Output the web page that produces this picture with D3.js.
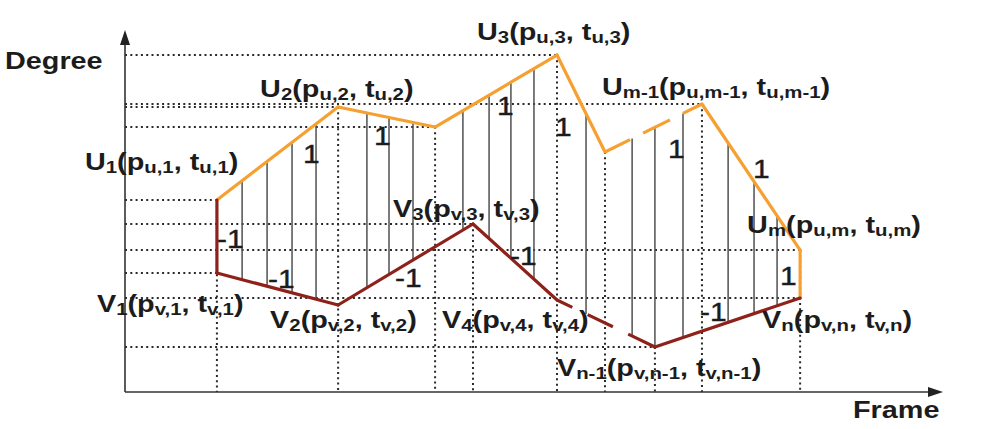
<!DOCTYPE html>
<html>
<head>
<meta charset="utf-8">
<script src="https://cdn.jsdelivr.net/npm/d3@7.9.0/dist/d3.min.js"></script>
<style>
  html, body { margin: 0; padding: 0; background: #fff; }
  svg { display: block; font-family: "Liberation Sans", Arial, sans-serif; }
</style>
</head>
<body>
<div id="chart"></div>
<script>
// upper polyline U (orange) and lower polyline V (brown), in frame / degree units
const uFrames  = [3.83, 8.88, 12.92, 18.0, 20.0, 24.04, 28.13];
const uDegrees = [16.0, 23.75, 22.08, 28.08, 20.0, 24.0, 11.83];
const uLabels  = ['U_{1}(p_{u,1}, t_{u,1})', 'U_{2}(p_{u,2}, t_{u,2})', null,
                  'U_{3}(p_{u,3}, t_{u,3})', null,
                  'U_{m-1}(p_{u,m-1}, t_{u,m-1})', 'U_{m}(p_{u,m}, t_{u,m})'];

const vFrames  = [3.83, 8.88, 14.5, 18.0, 22.08, 28.13];
const vDegrees = [9.92, 7.25, 14.0, 7.67, 3.75, 7.83];
const vLabels  = ['V_{1}(p_{v,1}, t_{v,1})', 'V_{2}(p_{v,2}, t_{v,2})', 'V_{3}(p_{v,3}, t_{v,3})',
                  'V_{4}(p_{v,4}, t_{v,4})', 'V_{n-1}(p_{v,n-1}, t_{v,n-1})', 'V_{n}(p_{v,n}, t_{v,n})'];

// intermediate frames where a difference line is drawn
const stepFrames = [4.88, 5.92, 6.96, 7.96, 10.08, 11.0, 12.0, 14.08, 15.17, 16.08, 17.04,
                    19.21, 21.13, 22.08, 23.25, 25.13, 26.21, 27.17];

// +1 / -1 annotations
const stepTexts   = ['1', '1', '1', '1', '1', '1', '1', '-1', '-1', '-1', '-1', '-1'];
const stepTextF   = [7.42, 10.38, 15.5, 17.92, 22.63, 26.17, 27.29, 3.83, 5.96, 11.25, 16.04, 23.96];
const stepTextD   = [19.08, 20.58, 23.08, 21.33, 19.5, 17.83, 8.92, 12.0, 8.67, 8.75, 10.58, 5.92];

const xTitle = 'Frame';
const yTitle = 'Degree';

// which points get guide lines
const uHGuides = [0, 1, 2, 3, 5, 6];
const vHGuides = [0, 2, 4, 5];
const uVGuides = [0, 1, 2, 3, 4, 5, 6];
const vVGuides = [2, 4];

const width = 996, height = 429;
const orange = '#f6a031', brown = '#8e2119', ink = '#1c1c1c';
const stretch = 1.2;

const svg = d3.select('#chart').append('svg')
  .attr('width', width).attr('height', height);

const x = d3.scaleLinear().domain([0, 34]).range([125, 941]);
const y = d3.scaleLinear().domain([0, 30]).range([392, 32]);

const U = uFrames.map((f, i) => ({ f, d: uDegrees[i], label: uLabels[i] }));
const V = vFrames.map((f, i) => ({ f, d: vDegrees[i], label: vLabels[i] }));

const uAt = d3.scaleLinear().domain(uFrames).range(uDegrees);
const vAt = d3.scaleLinear().domain(vFrames).range(vDegrees);

const dotted = sel => sel.attr('stroke', '#2a2a2a').attr('stroke-width', 2)
  .attr('stroke-dasharray', '2,3.3').attr('fill', 'none');

// horizontal guides
const hg = svg.append('g');
hg.selectAll('line.u').data(uHGuides.map(i => U[i])).join('line').attr('class', 'u')
  .attr('x1', x(0)).attr('x2', d => x(d.f))
  .attr('y1', d => y(d.d)).attr('y2', d => y(d.d)).call(dotted);
hg.selectAll('line.v').data(vHGuides.map(i => V[i])).join('line').attr('class', 'v')
  .attr('x1', x(0)).attr('x2', d => x(d.f))
  .attr('y1', d => y(d.d)).attr('y2', d => y(d.d)).call(dotted);

// vertical guides
const vg = svg.append('g');
vg.selectAll('line.u').data(uVGuides.map(i => U[i])).join('line').attr('class', 'u')
  .attr('x1', d => x(d.f)).attr('x2', d => x(d.f))
  .attr('y1', d => y(d.d)).attr('y2', y(0)).call(dotted);
vg.selectAll('line.v').data(vVGuides.map(i => V[i])).join('line').attr('class', 'v')
  .attr('x1', d => x(d.f)).attr('x2', d => x(d.f))
  .attr('y1', d => y(d.d)).attr('y2', y(0)).call(dotted);

// difference lines between U and V
svg.append('g').selectAll('line').data(stepFrames).join('line')
  .attr('x1', d => x(d)).attr('x2', d => x(d))
  .attr('y1', d => y(uAt(d))).attr('y2', d => y(vAt(d)))
  .attr('stroke', '#505050').attr('stroke-width', 1.5);

// polylines drawn segment by segment; the gap segments are dashed
function drawPath(points, color, dashedIndex, dash) {
  const segs = d3.pairs(points).map(([a, b], i) => ({ a, b, i }));
  svg.append('g').selectAll('line').data(segs).join('line')
    .attr('x1', s => x(s.a.f)).attr('y1', s => y(s.a.d))
    .attr('x2', s => x(s.b.f)).attr('y2', s => y(s.b.d))
    .attr('stroke', color).attr('stroke-width', 3.2)
    .attr('stroke-linecap', s => s.i === dashedIndex ? 'butt' : 'round')
    .attr('stroke-dasharray', s => s.i === dashedIndex ? dash : null);
}
drawPath([...U, V[V.length - 1]], orange, 4, '28,14.5,30,14.5,22');
drawPath([U[0], ...V], brown, 4, '17,17,28,17,32');

// axes
const axis = svg.append('g').attr('stroke', '#333').attr('fill', '#222');
axis.append('line').attr('x1', x(0)).attr('y1', y(0)).attr('x2', x(0)).attr('y2', y(30) + 10)
  .attr('stroke-width', 1.6);
axis.append('line').attr('x1', x(0)).attr('y1', y(0)).attr('x2', x(34) - 10).attr('y2', y(0))
  .attr('stroke-width', 1.6);
axis.append('path').attr('stroke', 'none')
  .attr('d', `M${x(0)},${y(30) - 2} l-5,15 l10,0 z`);
axis.append('path').attr('stroke', 'none')
  .attr('d', `M${x(34) + 2},${y(0)} l-15,-5 l0,10 z`);

// label with subscripts written as _{...}
function richText(g, str, big, small) {
  const t = g.append('text').attr('fill', ink).attr('font-weight', 'bold');
  const parts = str.split(/(_\{[^}]*\})/).filter(s => s.length);
  let sub = false;
  parts.forEach(p => {
    const isSub = p.startsWith('_{');
    const txt = isSub ? p.slice(2, -1) : p;
    const ts = t.append('tspan').attr('font-size', isSub ? small : big).text(txt);
    if (isSub && !sub) ts.attr('dy', 3);
    if (!isSub && sub) ts.attr('dy', -3);
    sub = isSub;
  });
  return t;
}

const uOffsets = [[-132, -30], [-78, -10], null, [-80, -15], null, [-100, -9], [-53, -17]];
const vOffsets = [[-120, 39], [-68, 23], [-80, -7], [-115, 28], [-98, 29], [-38, 30]];

function placeLabels(points, offsets) {
  points.forEach((p, i) => {
    if (!p.label) return;
    const g = svg.append('g')
      .attr('transform', `translate(${x(p.f) + offsets[i][0]},${y(p.d) + offsets[i][1]}) scale(${stretch},1)`);
    richText(g, p.label, 24, 17);
  });
}
placeLabels(U, uOffsets);
placeLabels(V, vOffsets);

// +1 / -1 marks
stepTexts.forEach((t, i) => {
  svg.append('g')
    .attr('transform', `translate(${x(stepTextF[i])},${y(stepTextD[i])}) scale(${stretch},1)`)
    .append('text').attr('fill', ink).attr('font-size', 25)
    .attr('stroke', ink).attr('stroke-width', 0.4).text(t);
});

// axis titles
svg.append('g').attr('transform', `translate(5,69) scale(${stretch},1)`)
  .append('text').attr('fill', ink).attr('font-weight', 'bold').attr('font-size', 24).text(yTitle);
svg.append('g').attr('transform', `translate(853,418) scale(${stretch},1)`)
  .append('text').attr('fill', ink).attr('font-weight', 'bold').attr('font-size', 24).text(xTitle);
</script>
</body>
</html>
